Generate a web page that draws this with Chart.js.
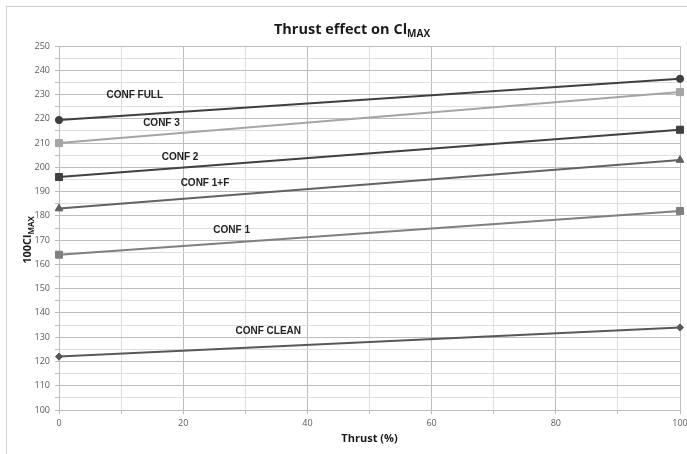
<!DOCTYPE html>
<html>
<head>
<meta charset="utf-8">
<script src="https://cdn.jsdelivr.net/npm/chart.js@4"></script>
<style>
html,body{margin:0;padding:0;background:#fff;}
#wrap{width:687px;height:454px;position:relative;}
</style>
</head>
<body>
<div id="wrap"><canvas id="c" width="687" height="454"></canvas></div>
<script>
const thrust = [0, 100];
const seriesNames = ["CONF FULL", "CONF 3", "CONF 2", "CONF 1+F", "CONF 1", "CONF CLEAN"];
const confFull = [219.5, 236.5];
const conf3 = [210, 231];
const conf2 = [196, 215.5];
const conf1F = [183, 203];
const conf1 = [164, 182];
const confClean = [122, 134];
const yTicks = [100, 110, 120, 130, 140, 150, 160, 170, 180, 190, 200, 210, 220, 230, 240, 250];
const xTicks = [0, 20, 40, 60, 80, 100];
// label anchor points in data space (thrust %, 100Clmax)
const labelX = [12.2, 16.5, 19.5, 23.5, 27.8, 33.7];
const labelY = [229.9, 218.0, 204.3, 193.6, 174.0, 132.6];

const allValues = [confFull, conf3, conf2, conf1F, conf1, confClean];
const lineColors = ['#3f3f3f', '#a5a5a5', '#404040', '#626262', '#7f7f7f', '#585858'];
const pointStyles = ['circle', 'rect', 'rect', 'triangle', 'rect', 'rectRot'];
const pointRadii = [3.6, 5, 5, 4.5, 5, 3.6];

const datasets = allValues.map((vals, i) => ({
  label: seriesNames[i],
  data: thrust.map((t, j) => ({x: t, y: vals[j]})),
  borderColor: lineColors[i],
  backgroundColor: lineColors[i],
  pointBackgroundColor: lineColors[i],
  pointBorderColor: lineColors[i],
  pointBorderWidth: 1,
  pointStyle: pointStyles[i],
  pointRadius: pointRadii[i],
  borderWidth: 2,
  tension: 0,
  clip: false
}));

const decor = {
  id: 'decor',
  beforeDraw(chart) {
    const ctx = chart.ctx;
    ctx.save();
    ctx.fillStyle = '#fff';
    ctx.fillRect(0, 0, chart.width, chart.height);
    ctx.strokeStyle = '#d0d0d0';
    ctx.lineWidth = 1;
    ctx.strokeRect(6.5, 6.5, chart.width + 10, chart.height + 10);
    ctx.restore();
  },
  afterDraw(chart) {
    const ctx = chart.ctx;
    const area = chart.chartArea;
    const xs = chart.scales.x, ys = chart.scales.y;
    ctx.save();
    // title
    const tMain = 'Thrust effect on Cl';
    const tSub = 'MAX';
    ctx.fillStyle = '#1a1a1a';
    ctx.textBaseline = 'alphabetic';
    ctx.font = 'bold 14.5px "Open Sans", sans-serif';
    const w1 = ctx.measureText(tMain).width;
    ctx.font = 'bold 10px "Open Sans", sans-serif';
    const w2 = ctx.measureText(tSub).width;
    let sx = 352 - (w1 + w2) / 2;
    ctx.font = 'bold 14.5px "Open Sans", sans-serif';
    ctx.textAlign = 'left';
    ctx.fillText(tMain, sx, 34);
    ctx.font = 'bold 10px "Open Sans", sans-serif';
    ctx.fillText(tSub, sx + w1, 37);
    // x title
    ctx.font = 'bold 11px "Open Sans", sans-serif';
    ctx.textAlign = 'center';
    ctx.fillText('Thrust (%)', (area.left + area.right) / 2, 442);
    // y title
    ctx.save();
    ctx.translate(31, 240);
    ctx.rotate(-Math.PI / 2);
    ctx.font = 'bold 11px "Open Sans", sans-serif';
    const y1 = ctx.measureText('100Cl').width;
    ctx.font = 'bold 8px "Open Sans", sans-serif';
    const y2 = ctx.measureText('MAX').width;
    const ystart = -(y1 + y2) / 2;
    ctx.textAlign = 'left';
    ctx.font = 'bold 11px "Open Sans", sans-serif';
    ctx.fillText('100Cl', ystart, 0);
    ctx.font = 'bold 8px "Open Sans", sans-serif';
    ctx.fillText('MAX', ystart + y1, 3);
    ctx.restore();
    // series labels
    ctx.font = 'bold 10px "Liberation Sans", Arial, sans-serif';
    ctx.fillStyle = '#222';
    ctx.textAlign = 'center';
    ctx.textBaseline = 'middle';
    seriesNames.forEach((n, i) => {
      ctx.fillText(n, xs.getPixelForValue(labelX[i]), ys.getPixelForValue(labelY[i]));
    });
    ctx.restore();
  }
};

new Chart(document.getElementById('c'), {
  type: 'line',
  data: {datasets},
  options: {
    responsive: false,
    animation: false,
    devicePixelRatio: 1,
    layout: {padding: {left: 0, right: 7, top: 46, bottom: 0}},
    plugins: {legend: {display: false}, tooltip: {enabled: false}, title: {display: false}},
    scales: {
      x: {
        type: 'linear',
        min: xTicks[0], max: xTicks[xTicks.length - 1],
        afterFit(s) { s.height = 44; s.paddingLeft = 0; s.paddingRight = 0; },
        ticks: {
          stepSize: 10,
          autoSkip: false,
          maxRotation: 0,
          color: '#595959',
          font: {size: 9, family: '"Open Sans", sans-serif'},
          padding: 4,
          callback: v => xTicks.includes(v) ? String(v) : ''
        },
        grid: {
          color: c => (c.tick && xTicks.includes(c.tick.value)) ? '#bdbdbd' : '#dedede',
          lineWidth: 1,
          tickLength: 4,
          tickColor: '#bdbdbd'
        },
        border: {color: '#bdbdbd'}
      },
      y: {
        type: 'linear',
        min: yTicks[0], max: yTicks[yTicks.length - 1],
        afterFit(s) { s.width = 59; s.paddingTop = 0; s.paddingBottom = 0; },
        ticks: {
          stepSize: 5,
          autoSkip: false,
          color: '#595959',
          font: {size: 9, family: '"Open Sans", sans-serif'},
          padding: 5,
          callback: v => yTicks.includes(v) ? String(v) : ''
        },
        grid: {
          color: c => (c.tick && yTicks.includes(c.tick.value)) ? '#bdbdbd' : '#dedede',
          lineWidth: 1,
          tickLength: 4,
          tickColor: '#bdbdbd'
        },
        border: {color: '#bdbdbd'}
      }
    }
  },
  plugins: [decor]
});
</script>
</body>
</html>
